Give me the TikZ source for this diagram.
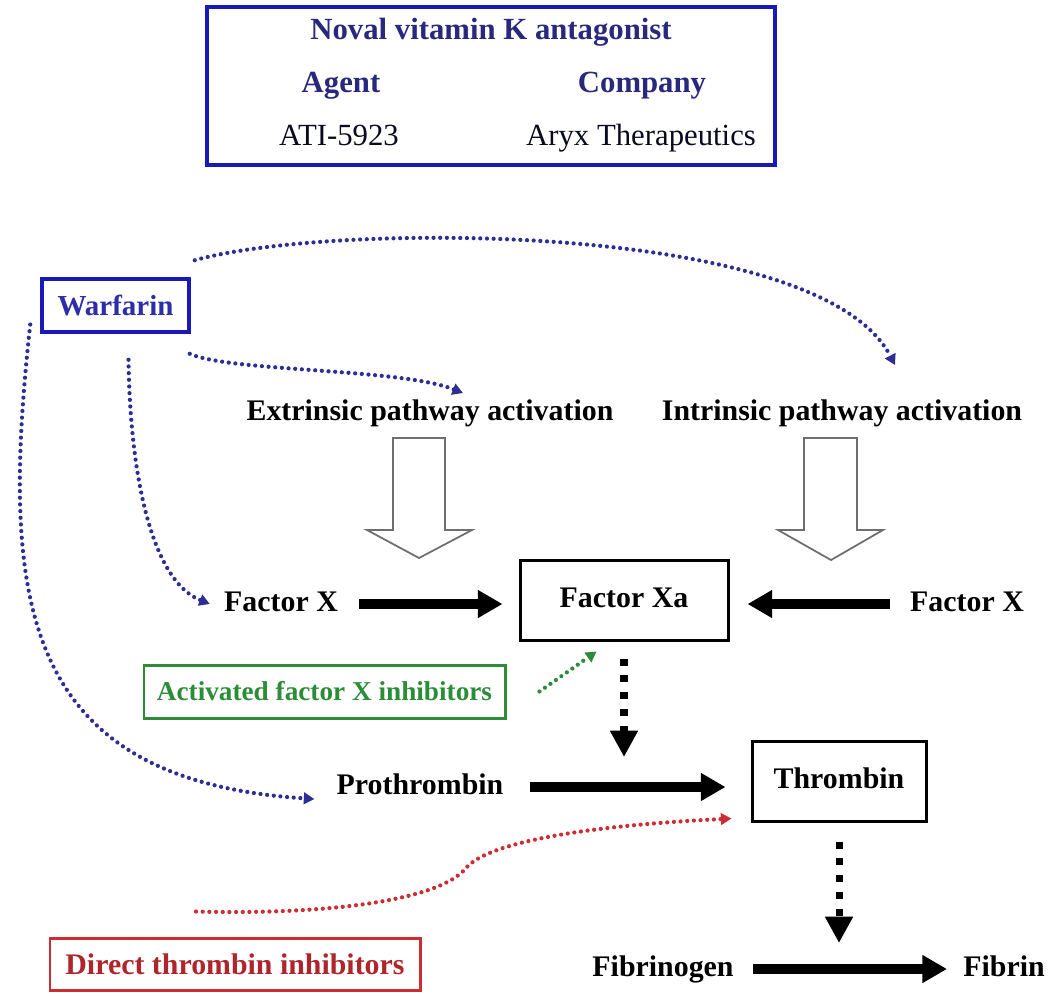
\documentclass[tikz,border=0pt]{standalone}
\usepackage{fontspec}
\setmainfont{Liberation Serif}
\usetikzlibrary{arrows.meta, calc}

\definecolor{vkblue}{RGB}{25,25,185}
\definecolor{vknavy}{RGB}{40,40,125}
\definecolor{warfblue}{RGB}{45,45,170}
\definecolor{dotblue}{RGB}{45,45,150}
\definecolor{fxgreen}{RGB}{45,140,55}
\definecolor{dtired}{RGB}{205,45,50}
\definecolor{hollowgray}{RGB}{110,110,110}

\tikzset{
  lbl/.style={font=\fontsize{17}{20}\selectfont\bfseries, inner sep=0pt,
    text height=12pt, text depth=3.5pt},
  toptxt/.style={lbl, font=\fontsize{17.5}{21}\selectfont\bfseries, text=vknavy},
  topval/.style={lbl, font=\fontsize{17.5}{21}\selectfont, text=black!75!vknavy},
  box/.style={draw, line width=1.7pt, inner sep=0pt},
  fwd/.style={line width=5.5pt, -{Triangle[length=14pt,width=15pt]}},
  sqdots/.style={line width=4pt, dash pattern=on 4pt off 5.6pt,
    -{Triangle[length=15pt,width=15pt]}},
  bluedots/.style={draw=dotblue, line width=2.4pt, line cap=round,
    dash pattern=on 0pt off 3.8pt, -{Triangle[length=6pt,width=6.5pt]}},
  greendots/.style={bluedots, draw=fxgreen},
  reddots/.style={bluedots, draw=dtired},
  hollow/.style={draw=hollowgray, line width=1pt, fill=white}
}

\begin{document}
\begin{tikzpicture}[x=0.2mm, y=-0.2mm]
\useasboundingbox (0,0) rectangle (1057,995);
% Box with the new vitamin K antagonist
\node[box, draw=vkblue, line width=2.3pt, minimum width=113.6mm,
  minimum height=31.6mm] (vka) at (491,86) {};
\node[toptxt] (title) at (491,32) {Noval vitamin K antagonist};
\node[toptxt] (agent) at (341,85) {Agent};
\node[toptxt] (company) at (642,85) {Company};
\node[topval] (ati) at (339,138) {ATI-5923};
\node[topval] (aryx) at (641,138) {Aryx Therapeutics};
% Warfarin box
\node[box, draw=vkblue, line width=2pt, minimum width=29.4mm, minimum height=10.6mm,
  font=\fontsize{16.5}{20}\selectfont\bfseries, text=warfblue] (warf) at (115.5,305.5) {Warfarin};
% The two pathways
\node[lbl] (ext) at (430,413) {Extrinsic pathway activation};
\node[lbl] (int) at (842,413) {Intrinsic pathway activation};
% Factor X on both sides, Factor Xa in the middle
\node[lbl] (fxl) at (281,604) {Factor X};
\node[lbl] (fxr) at (967,604) {Factor X};
\node[box, lbl, minimum width=41.6mm, minimum height=16mm] (fxa) at (624,600) {Factor Xa};
% Inhibitor boxes
\node[box, draw=fxgreen, minimum width=72.2mm, minimum height=10.6mm,
  font=\fontsize{15.5}{18}\selectfont\bfseries, text=fxgreen] (agx) at (324.5,691.5) {Activated factor X inhibitors};
\node[box, draw=dtired, minimum width=74mm, minimum height=10.4mm,
  font=\fontsize{17}{20}\selectfont\bfseries, text=dtired!85!black] (dti) at (235,964) {Direct thrombin inhibitors};
% Prothrombin, thrombin, fibrinogen, fibrin
\node[lbl] (pro) at (420,787) {Prothrombin};
\node[box, lbl, minimum width=34.8mm, minimum height=16mm] (thr) at (839,781) {Thrombin};
\node[lbl] (fib) at (663,969) {Fibrinogen};
\node[lbl] (fbn) at (1004,969) {Fibrin};
% Where the dotted arrows stop above the lower arrows
\coordinate (xa2pro) at (624,757);
\coordinate (thr2fib) at (839,943);

% Hollow arrows from the pathways
\draw[hollow] (393,438) -- (445,438) -- (445,530) -- (472,530) -- (419,558)
  -- (367,530) -- (393,530) -- cycle;
\draw[hollow] (804,438) -- (857,438) -- (857,530) -- (883,530) -- (831,560)
  -- (778,530) -- (804,530) -- cycle;

% Solid arrows
\draw[fwd, shorten <=4.2mm, shorten >=3.2mm] (fxl.east) -- (fxl.east -| fxa.west);
\draw[fwd, shorten <=4mm, shorten >=3.6mm] (fxr.west) -- (fxr.west -| fxa.east);
\draw[fwd, shorten <=5.2mm, shorten >=5mm] (pro.east) -- (pro.east -| thr.west);
\draw[fwd, shorten <=3.8mm, shorten >=3.2mm] (fib.east) -- (fbn.west);

% Square-dotted arrows
\draw[sqdots, shorten <=3.4mm] (fxa.south) -- (xa2pro);
\draw[sqdots, shorten <=3.8mm] (thr.south) -- (thr2fib);

% Warfarin acts on four places
\draw[bluedots] ($(warf.north east)+(4,-17)$) .. controls (330,222) and (820,220)
  .. ($(int.north)+(53,-34)$);
\draw[bluedots] ($(warf.south east)+(-1,20)$) .. controls (230,372) and (400,368)
  .. ($(ext.north)+(33,-6)$);
\draw[bluedots] ($(warf.south)+(13,26)$) .. controls (130,470) and (150,580)
  .. ($(fxl.west)+(-14,0)$);
\draw[bluedots] ($(warf.west)+(-10,19)$) .. controls (0,600) and (20,780)
  .. ($(pro.west)+(-22,12)$);

% Inhibitors
\draw[greendots] ($(agx.east)+(33,0)$) -- ($(fxa.south west)+(78,10)$);
\draw[reddots] ($(dti.north)+(-39,-25)$) .. controls (330,915) and (440,900) .. (466,868)
  .. controls (490,840) and (600,825) .. ($(thr.south west)+(-19,-4)$);
\end{tikzpicture}
\end{document}
